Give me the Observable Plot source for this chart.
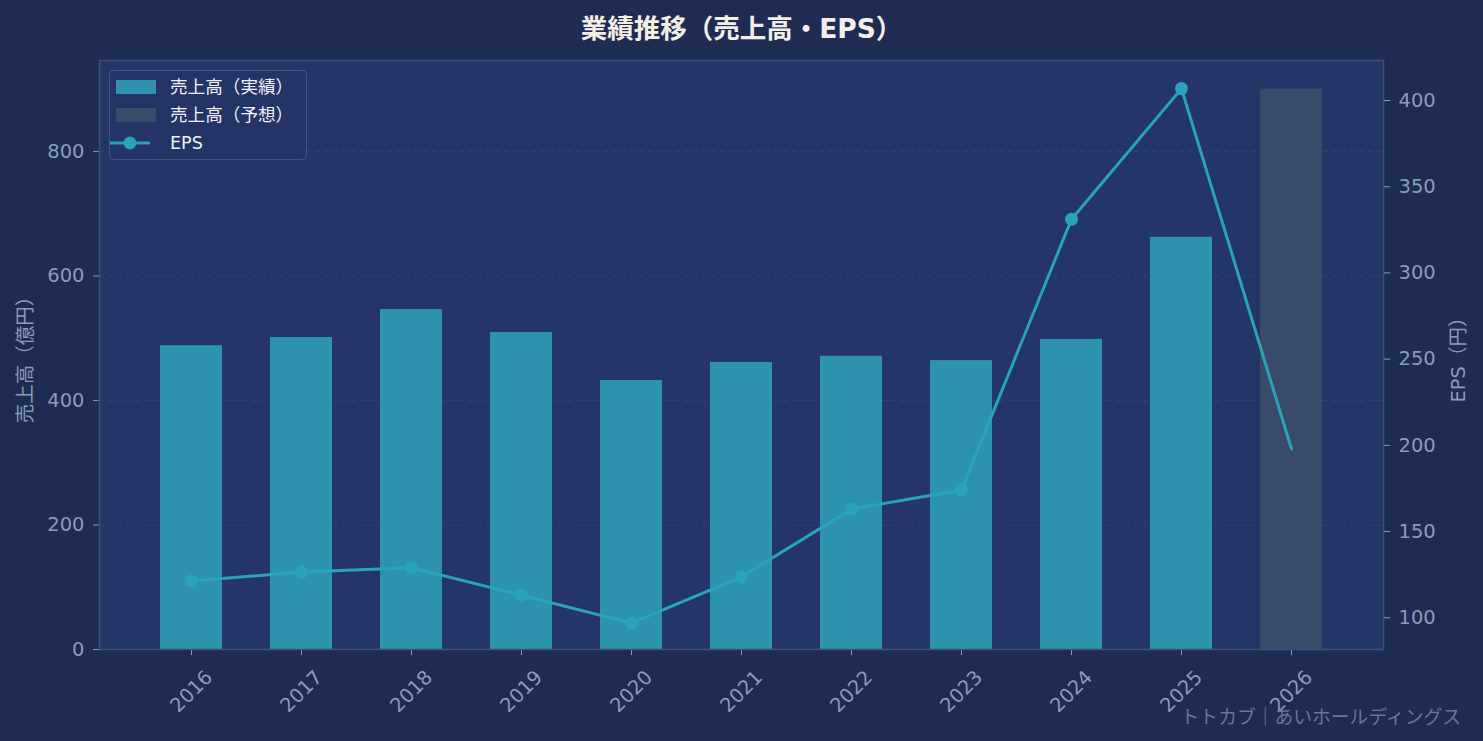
<!DOCTYPE html>
<html>
<head>
<meta charset="utf-8">
<script src="https://cdn.jsdelivr.net/npm/d3@7"></script>
<script src="https://cdn.jsdelivr.net/npm/@observablehq/plot@0.6"></script>
<style>
  html, body { margin:0; padding:0; background:#1e2b53; }
  body { width:1483px; height:741px; overflow:hidden; font-family:"DejaVu Sans","Noto Sans CJK JP",sans-serif; }
  #wrap { position:relative; width:1483px; height:741px; background:#1e2b53; }
  #wrap svg { position:absolute; left:0; top:0; }
  #title { position:absolute; left:0; width:1483px; top:7px; text-align:center; font-size:26.5px; font-weight:bold; color:#f4efe4; }
  #caption { position:absolute; right:22px; top:702px; font-size:18.8px; color:#67779a; }
  #legend { position:absolute; left:109px; top:70px; width:198px; height:90px; border:1px solid #44557d; border-radius:4px; background:rgba(36,52,102,0.85); box-sizing:border-box; }
  .row { position:absolute; left:0; height:20px; }
  .sw { position:absolute; left:6px; width:40px; height:14px; }
  .lbl { position:absolute; left:60px; font-size:17.6px; color:#eef0f4; white-space:nowrap; line-height:20px; }
</style>
</head>
<body>
<div id="wrap">
  <div id="title">業績推移（売上高・EPS）</div>
  <div id="caption">トトカブ｜あいホールディングス</div>
</div>
<script>
// ---- data ----
const years = ["2016","2017","2018","2019","2020","2021","2022","2023","2024","2025","2026"];
const sales = [488, 501, 546, 509, 432, 461, 471, 464, 498, 662, 900];
const eps = [121.3, 126.5, 129.0, 113.1, 96.9, 123.7, 163.0, 174.1, 331.1, 406.9, 197.9];
const kinds = ["実績","実績","実績","実績","実績","実績","実績","実績","実績","実績","予想"];
const salesTicks = [0, 200, 400, 600, 800];
const epsTicks = [100, 150, 200, 250, 300, 350, 400];
const legendLabels = ["売上高（実績）", "売上高（予想）", "EPS"];

// ---- styling ----
const W = 1483, H = 741;
const margins = {marginLeft: 99, marginRight: 100, marginTop: 60, marginBottom: 92};
const colActual = "#2d93ad";
const colForecast = "#3a4a6b";
const colLine = "#29a3b9";
const colTick = "#8b9cb9";
const colPlotBg = "#243668";
const colSpine = "#3f4f77";
const font = "'DejaVu Sans','Noto Sans CJK JP',sans-serif";
const fs = 19.5;

const rows = years.map((y, i) => ({year: y, sales: sales[i], eps: eps[i], kind: kinds[i]}));
const xScale = {type: "band", domain: years, paddingInner: 0.44, paddingOuter: 0.556, align: 0.5};

const p1 = Plot.plot({
  width: W, height: H, ...margins,
  style: {background: "transparent", fontFamily: font, fontSize: fs + "px", overflow: "visible"},
  x: {...xScale},
  y: {domain: [0, 946]},
  color: {domain: ["実績","予想"], range: [colActual, colForecast]},
  marks: [
    Plot.frame({fill: colPlotBg}),
    Plot.gridY(salesTicks.slice(1), {stroke: "#3b4a78", strokeOpacity: 0.8, strokeDasharray: "5,4", strokeWidth: 0.8}),
    Plot.barY(rows, {x: "year", y: "sales", fill: "kind"}),
    Plot.axisY({ticks: salesTicks, tickSize: 6, tickPadding: 9, color: colTick, label: null, fontSize: fs}),
    Plot.axisX({tickSize: 6, tickFormat: () => "", color: colTick, label: null}),
    Plot.text(years, {x: d => d, frameAnchor: "bottom", dy: 42, rotate: -45, textAnchor: "middle", lineAnchor: "middle", fill: colTick, fontSize: fs}),
    Plot.text(["売上高（億円）"], {frameAnchor: "left", dx: -74, rotate: -90, textAnchor: "middle", lineAnchor: "middle", fill: colTick, fontSize: fs}),
    Plot.frame({stroke: colSpine, strokeWidth: 1.5})
  ]
});

const p2 = Plot.plot({
  width: W, height: H, ...margins,
  style: {background: "transparent", fontFamily: font, fontSize: fs + "px", overflow: "visible"},
  x: {...xScale, axis: null},
  y: {domain: [81.6, 423.2]},
  marks: [
    Plot.line(rows, {x: "year", y: "eps", stroke: colLine, strokeWidth: 3}),
    Plot.dot(rows.filter(d => d.kind === "実績"), {x: "year", y: "eps", r: 6.5, fill: colLine, stroke: "none"}),
    Plot.axisY({anchor: "right", ticks: epsTicks, tickSize: 6, tickPadding: 9, color: colTick, label: null, fontSize: fs}),
    Plot.text(["EPS（円）"], {frameAnchor: "right", dx: 75, rotate: -90, textAnchor: "middle", lineAnchor: "middle", fill: colTick, fontSize: fs})
  ]
});

const wrap = document.getElementById("wrap");
wrap.insertBefore(p1, wrap.firstChild);
wrap.insertBefore(p2, p1.nextSibling);

// ---- legend ----
const legend = document.createElement("div");
legend.id = "legend";
const swatches = [
  `<div class="sw" style="background:${colActual};top:3px"></div>`,
  `<div class="sw" style="background:${colForecast};top:3px"></div>`,
  `<svg class="sw" style="top:0;height:20px" width="40" height="20"><line x1="0" x2="40" y1="10" y2="10" stroke="${colLine}" stroke-width="3"/><circle cx="20" cy="10" r="6.5" fill="${colLine}"/></svg>`
];
const rowTops = [6, 34, 62];
legendLabels.forEach((t, i) => {
  const r = document.createElement("div");
  r.className = "row";
  r.style.top = rowTops[i] + "px";
  r.style.width = "190px";
  r.innerHTML = swatches[i] + `<span class="lbl">${t}</span>`;
  legend.appendChild(r);
});
wrap.appendChild(legend);
</script>
</body>
</html>
